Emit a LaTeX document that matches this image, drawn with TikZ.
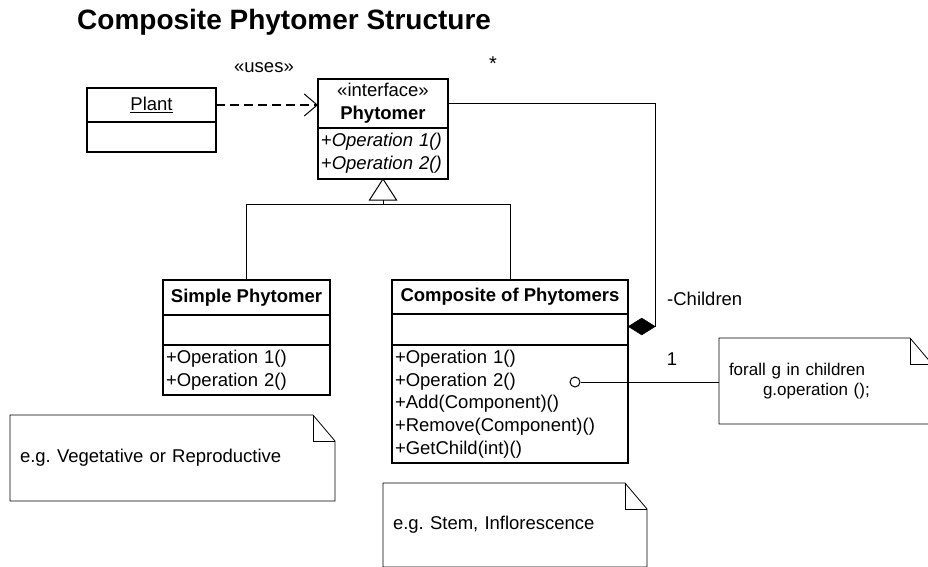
\documentclass[tikz,border=0pt]{standalone}
\usepackage{fontspec}
\setmainfont{Liberation Sans}
\usetikzlibrary{arrows.meta, positioning, shapes.geometric}
\frenchspacing

% note outline with a folded corner
\newcommand\notecorner[1]{%
  \draw[notebox] (#1.south west) -- (#1.north west) -- ([xshift=-22pt]#1.north east)
    -- ([yshift=-26pt]#1.north east) -- (#1.south east) -- cycle;
  \draw[notebox] ([xshift=-22pt]#1.north east) |- ([yshift=-26pt]#1.north east);
}

\begin{document}
\begin{tikzpicture}[
    x=1pt, y=-1pt,
    font=\fontsize{18.5}{22.75}\selectfont,
    compart/.style={draw, line width=1.3pt, outer sep=0pt, inner xsep=3pt, inner ysep=0pt, align=center},
    oplist/.style={compart, align=left},
    note/.style={inner xsep=10pt, inner ysep=0pt, outer sep=0pt, align=left},
    notebox/.style={line width=0.8pt},
    link/.style={line width=1pt},
    usesarrow/.style={line width=2.7pt, dash pattern=on 9pt off 5pt, -{Straight Barb[length=13pt, width=22pt, line width=1pt]}},
    lbl/.style={inner sep=0pt}
]
\useasboundingbox (0,0) rectangle (928,566);

% Title
\node[lbl, anchor=base west, font=\fontsize{28}{32}\selectfont\bfseries] (title) at (77,29) {Composite Phytomer Structure};

% Classes
\node[compart, minimum width=129pt, minimum height=34pt, anchor=north west] (plantname) at (87,88) {\underline{Plant}};
\node[compart, minimum width=129pt, minimum height=30pt, below=0pt of plantname] (plantattr) {};

\node[compart, minimum width=130pt, minimum height=49pt, anchor=north west] (phyname) at (318,79) {«interface»\\\textbf{Phytomer}};
\node[oplist, text width=124pt, minimum height=51pt, below=0pt of phyname] (phyops) {+\textit{Operation 1()}\\+\textit{Operation 2()}};

\node[compart, minimum width=167pt, minimum height=35pt, anchor=north west] (simplename) at (163,280) {\textbf{Simple Phytomer}};
\node[compart, minimum width=167pt, minimum height=30pt, below=0pt of simplename] (simpleattr) {};
\node[oplist, text width=161pt, minimum height=50pt, below=0pt of simpleattr] (simpleops) {+Operation 1()\\+Operation 2()};

\node[compart, minimum width=236pt, minimum height=34pt, anchor=north west] (compname) at (392,280) {\textbf{Composite of Phytomers}};
\node[compart, minimum width=236pt, minimum height=31pt, below=0pt of compname] (compattr) {};
\node[oplist, text width=230pt, minimum height=118pt, below=0pt of compattr] (compops) {+Operation 1()\\+Operation 2()\\+Add(Component)()\\+Remove(Component)()\\+GetChild(int)()};

% Notes
\node[note, text width=305pt, minimum height=86pt, anchor=north west] (vegnote) at (10,415) {e.g. Vegetative or Reproductive};
\node[note, text width=244pt, minimum height=84pt, anchor=north west] (stemnote) at (383,483) {e.g. Stem, Inflorescence};
\node[note, text width=193pt, minimum height=86pt, anchor=north west, font=\fontsize{17}{20}\selectfont] (loopnote) at (719,338) {forall g in children\\\hspace*{34pt}g.operation ();};
\notecorner{vegnote}
\notecorner{stemnote}
\notecorner{loopnote}

% Uses
\draw[usesarrow] (plantname.east) -- (plantname.east -| phyname.west);
\node[lbl, anchor=base] (uses) at (264,72) {«uses»};

% Generalization
\coordinate (genbase) at ([yshift=-21pt]phyops.south);
\draw[link] (genbase) -- ++(0,4) -| (simplename.north);
\draw[link] (genbase) -- ++(0,4) -| (compname.north);
\draw[link, fill=white] (phyops.south) -- ++(-13.5,21) -- ++(27,0) -- cycle;

% Composition
\node[diamond, draw, fill=black, line width=0.5pt, minimum width=27pt, minimum height=17pt, inner sep=0pt, anchor=west] (dia) at ([yshift=3pt]compattr.east) {};
\draw[link] (phyname.east) -| (dia.east);
\node[lbl, anchor=base, font=\fontsize{20}{22}\selectfont] (many) at (493,70) {*};
\node[lbl, anchor=base west] (children) at (667,305) {-Children};
\node[lbl, anchor=base] (one) at (672,365) {1};

% Note link
\node[circle, draw, line width=1pt, fill=white, minimum size=10pt, inner sep=0pt] (opdot) at (575,382) {};
\draw[link] (opdot.east) -- (opdot.east -| loopnote.west);
\end{tikzpicture}
\end{document}
